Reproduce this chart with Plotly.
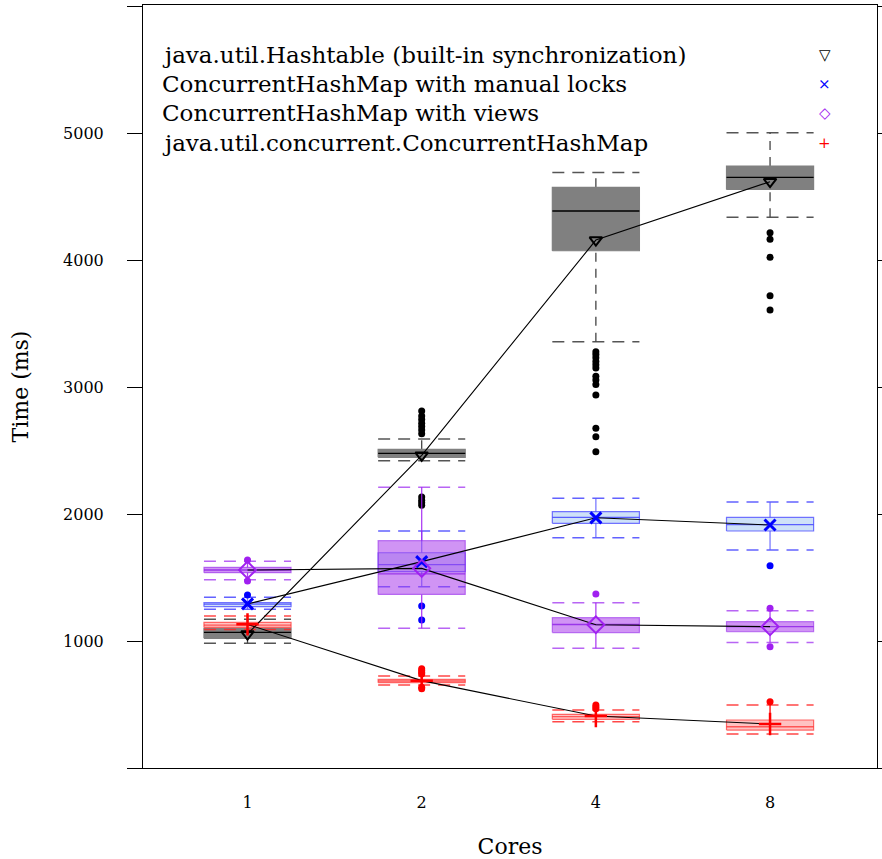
import plotly.graph_objects as go

cores = ["1", "2", "4", "8"]

series_names = [
    "java.util.Hashtable (built-in synchronization)",
    "ConcurrentHashMap with manual locks",
    "ConcurrentHashMap with views",
    "java.util.concurrent.ConcurrentHashMap",
]

# Hashtable
ht_low = [982, 2420, 3357, 4336]
ht_q1 = [1021, 2446, 4073, 4556]
ht_med = [1068, 2478, 4386, 4650]
ht_q3 = [1100, 2509, 4572, 4740]
ht_high = [1171, 2591, 4690, 5003]
ht_mean = [1055, 2462, 4157, 4617]
ht_out = [[], [2811, 2772, 2745, 2715, 2690, 2661, 2632, 2134, 2108, 2088, 2068],
          [3278, 3255, 3230, 3200, 3175, 3150, 3085, 3055, 3020, 2937, 2675, 2609, 2490],
          [4215, 4163, 4021, 3719, 3606]]

# Manual locks
ml_low = [1250, 1428, 1814, 1717]
ml_q1 = [1270, 1546, 1927, 1866]
ml_med = [1290, 1602, 1973, 1917]
ml_q3 = [1302, 1695, 2018, 1973]
ml_high = [1344, 1866, 2124, 2094]
ml_mean = [1292, 1625, 1970, 1913]
ml_out = [[1362], [1276, 1165], [], [1593]]

# Views
vw_low = [1482, 1100, 942, 989]
vw_q1 = [1538, 1367, 1066, 1073]
vw_med = [1559, 1528, 1130, 1113]
vw_q3 = [1580, 1790, 1184, 1152]
vw_high = [1628, 2210, 1302, 1239]
vw_mean = [1559, 1572, 1128, 1113]
vw_out = [[1638, 1472], [], [1370], [1257, 955]]

# ConcurrentHashMap
ch_low = [1090, 654, 365, 268]
ch_q1 = [1107, 672, 383, 299]
ch_med = [1125, 685, 404, 325]
ch_q3 = [1147, 698, 423, 378]
ch_high = [1197, 724, 457, 496]
ch_mean = [1131, 688, 409, 346]
ch_out = [[], [782, 768, 752, 740, 636, 624], [496, 481, 466], [522]]

styles = [
    dict(fill="rgb(128,128,128)", border="rgba(128,128,128,1)", med="black", cap="#555555",
         whisker="#444444", wdash="9px,7px", out="black", sym="triangle-down-open", msize=11,
         mcol="black", mlw=2),
    dict(fill="rgba(190,215,245,0.75)", border="rgba(70,70,255,0.75)", med="rgba(60,60,255,0.8)",
         cap="rgba(70,70,255,0.85)", whisker="rgba(90,90,255,0.8)", wdash="solid", out="#0000ff",
         sym="x-thin", msize=11, mcol="#0000ff", mlw=3),
    dict(fill="rgba(170,60,235,0.55)", border="rgba(150,40,235,0.6)", med="rgba(140,30,230,0.8)",
         cap="rgba(160,50,240,0.75)", whisker="rgba(160,32,240,0.85)", wdash="solid", out="#a020f0",
         sym="diamond-open", msize=13, mcol="#a020f0", mlw=2),
    dict(fill="rgba(255,120,120,0.45)", border="rgba(255,60,60,0.75)", med="rgba(255,40,40,0.7)",
         cap="rgba(255,40,40,0.85)", whisker="#ff0000", wdash="solid", out="#ff0000",
         sym="cross-thin", msize=16, mcol="#ff0000", mlw=2.5),
]

data = [
    (ht_low, ht_q1, ht_med, ht_q3, ht_high, ht_mean, ht_out),
    (ml_low, ml_q1, ml_med, ml_q3, ml_high, ml_mean, ml_out),
    (vw_low, vw_q1, vw_med, vw_q3, vw_high, vw_mean, vw_out),
    (ch_low, ch_q1, ch_med, ch_q3, ch_high, ch_mean, ch_out),
]

W = 0.25
fig = go.Figure()
pos = list(range(len(cores)))

def add_line(xs, ys, color, width=1.2, dash="solid"):
    fig.add_trace(go.Scatter(x=xs, y=ys, mode="lines", showlegend=False, hoverinfo="skip",
                             line=dict(color=color, width=width, dash=dash)))

for (low, q1, med, q3, high, mean, outs), st in zip(data, styles):
    # caps (dashed, full width)
    cx, cy = [], []
    for i in pos:
        for v in (low[i], high[i]):
            cx += [i - W, i + W, None]
            cy += [v, v, None]
    add_line(cx, cy, st["cap"], 1.5, "12px,8px")
    # whiskers
    wx, wy = [], []
    for i in pos:
        wx += [i, i, None, i, i, None]
        wy += [low[i], q1[i], None, q3[i], high[i], None]
    add_line(wx, wy, st["whisker"], 1.3, st["wdash"])
    # boxes
    for i in pos:
        fig.add_trace(go.Scatter(x=[i - W, i + W, i + W, i - W, i - W],
                                 y=[q1[i], q1[i], q3[i], q3[i], q1[i]],
                                 mode="lines", fill="toself", fillcolor=st["fill"],
                                 line=dict(color=st["border"], width=1.2),
                                 showlegend=False, hoverinfo="skip"))
    mx, my = [], []
    for i in pos:
        mx += [i - W, i + W, None]
        my += [med[i], med[i], None]
    add_line(mx, my, st["med"], 1.3)
    # outliers
    ox, oy = [], []
    for i in pos:
        for v in outs[i]:
            ox.append(i)
            oy.append(v)
    fig.add_trace(go.Scatter(x=ox, y=oy, mode="markers", showlegend=False, hoverinfo="skip",
                             marker=dict(color=st["out"], size=7, line=dict(width=0))))

# mean lines and markers
for (low, q1, med, q3, high, mean, outs), st in zip(data, styles):
    fig.add_trace(go.Scatter(x=pos, y=mean, mode="lines", showlegend=False, hoverinfo="skip",
                             line=dict(color="black", width=1.1)))
for (low, q1, med, q3, high, mean, outs), st in zip(data, styles):
    fig.add_trace(go.Scatter(x=pos, y=mean, mode="markers", showlegend=False, hoverinfo="skip",
                             marker=dict(symbol=st["sym"], size=st["msize"], color=st["mcol"],
                                         line=dict(color=st["mcol"], width=st["mlw"]))))

font_family = "DejaVu Serif"
legend_sym = ["\u25BD", "\u00D7", "\u25C7", "+"]
legend_col = ["black", "#0000ff", "#a020f0", "#ff0000"]
legend_y = [0.934, 0.896, 0.858, 0.819]
annotations = []
for name, sym, col, yy in zip(series_names, legend_sym, legend_col, legend_y):
    annotations.append(dict(text=name, x=0.023, y=yy, xref="paper", yref="paper",
                            xanchor="left", yanchor="middle", showarrow=False,
                            font=dict(family=font_family, size=23, color="black")))
    annotations.append(dict(text=sym, x=0.929, y=yy, xref="paper", yref="paper",
                            xanchor="center", yanchor="middle", showarrow=False,
                            font=dict(family=font_family, size=15, color=col)))

fig.update_layout(
    width=882, height=859, autosize=False,
    margin=dict(l=143, r=5, t=5, b=91),
    plot_bgcolor="white", paper_bgcolor="white",
    font=dict(family=font_family, color="black"),
    annotations=annotations,
    xaxis=dict(range=[-0.6, 3.614], tickvals=pos, ticktext=cores, showgrid=False,
               zeroline=False, showline=True, linecolor="black", linewidth=1, mirror=True,
               automargin=False,
               ticks="", tickfont=dict(size=16, family=font_family), ticklabelstandoff=20,
               title=dict(text="Cores", font=dict(size=22, family=font_family), standoff=30)),
    yaxis=dict(range=[0, 6008], tickvals=[0, 1000, 2000, 3000, 4000, 5000, 6000],
               ticktext=["", "1000", "2000", "3000", "4000", "5000", ""], showgrid=False,
               zeroline=False, showline=True, linecolor="black", linewidth=1, mirror="ticks",
               automargin=False,
               ticks="outside", ticklen=15, tickcolor="black", tickwidth=1,
               tickfont=dict(size=16, family=font_family), ticklabelstandoff=20,
               title=dict(text="Time (ms)", font=dict(size=22, family=font_family), standoff=28)),
)

fig.write_html("out.html",
               config={"responsive": False, "displayModeBar": False},
               post_script="document.body.style.margin='0';document.body.style.overflow='hidden';")
